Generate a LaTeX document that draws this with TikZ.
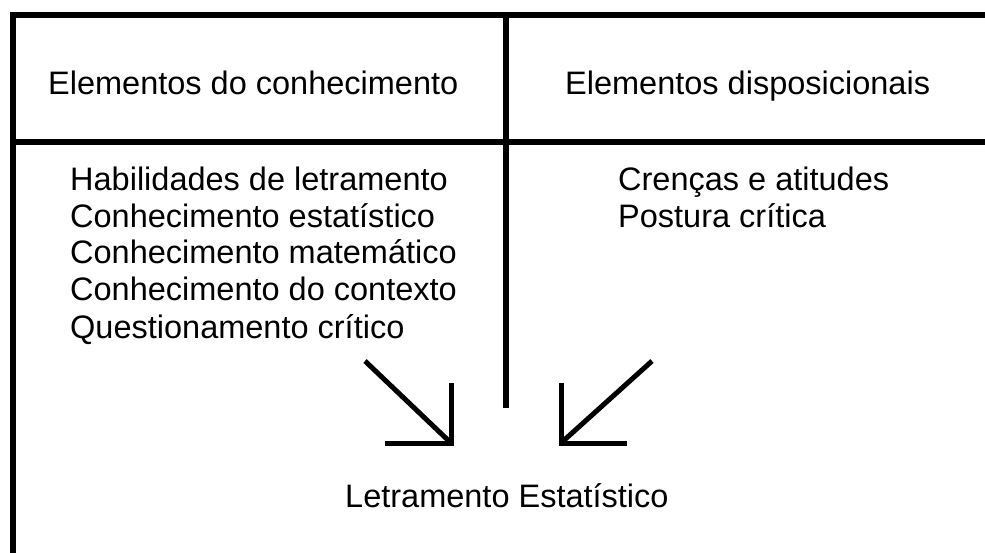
\documentclass[tikz,border=0pt]{standalone}
\usepackage{fontspec}
\setmainfont{Liberation Sans}
\begin{document}
\begin{tikzpicture}[x=1pt,y=-1pt,
  frame/.style={line width=5.5pt},
  arrowline/.style={line width=5pt},
  lbl/.style={inner sep=0pt,anchor=base west,font=\fontsize{32.5}{36.7}\selectfont}]
\useasboundingbox (0,0) rectangle (985,553);
% frame
\draw[frame] (13,553) -- (13,15) -- (985,15);
\draw[frame] (13,142) -- (985,142);
\draw[frame] (506,15) -- (506,408);
% headings
\node[lbl] (h1) at (48,95) {Elementos do conhecimento};
\node[lbl] (h2) at (565,95) {Elementos disposicionais};
% left column
\node[lbl] (k1) at (70,191) {Habilidades de letramento};
\node[lbl] (k2) at (70,228) {Conhecimento estatístico};
\node[lbl] (k3) at (70,264) {Conhecimento matemático};
\node[lbl] (k4) at (70,301) {Conhecimento do contexto};
\node[lbl] (k5) at (70,338) {Questionamento crítico};
% right column
\node[lbl] (d1) at (618,191) {Crenças e atitudes};
\node[lbl] (d2) at (618,228) {Postura crítica};
% result
\node[lbl] (res) at (345,507) {Letramento Estatístico};
% arrows
\coordinate (la) at (365,361);
\coordinate (lc) at (451,443);
\coordinate (ra) at (652,361);
\coordinate (rc) at (561,443);
\draw[arrowline] (la) -- (lc);
\draw[arrowline] (451,383) -- (lc) -- (385,443);
\draw[arrowline] (ra) -- (rc);
\draw[arrowline] (561,383) -- (rc) -- (627,443);
\end{tikzpicture}
\end{document}
